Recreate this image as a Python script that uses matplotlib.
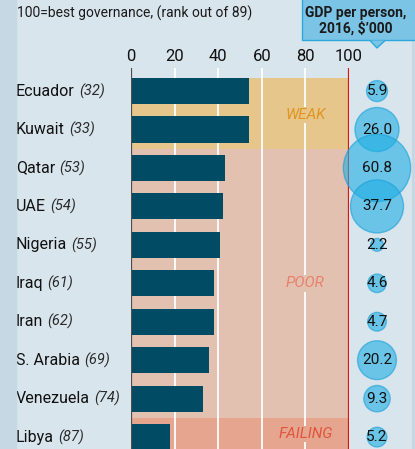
import matplotlib
matplotlib.use('Agg')
import matplotlib.pyplot as plt
from matplotlib.patches import Rectangle, Polygon

plt.rcParams['font.family'] = ['Roboto', 'DejaVu Sans']

# data
countries = ['Ecuador', 'Kuwait', 'Qatar', 'UAE', 'Nigeria', 'Iraq', 'Iran',
             'S. Arabia', 'Venezuela', 'Libya']
ranks = [32, 33, 53, 54, 55, 61, 62, 69, 74, 87]
scores = [54, 54, 43, 42, 41, 38, 38, 36, 33, 18]
gdp = [5.9, 26.0, 60.8, 37.7, 2.2, 4.6, 4.7, 20.2, 9.3, 5.2]
ticks = [0, 20, 40, 60, 80, 100]

# bands: (label, top row, bottom row, fill, text colour, label row)
bands = [
    ('WEAK', -0.34, 1.5, '#e6c68b', '#e0951f', 0.62),
    ('POOR', 1.5, 8.5, '#e3c1b1', '#e8806a', 5),
    ('FAILING', 8.5, 9.5, '#e5a58e', '#e0553b', 8.92),
]

BG = '#d9e5ed'
W, H = 415, 449

fig = plt.figure(figsize=(W / 100, H / 100), dpi=100, facecolor=BG)

# darker strips at the edges
fig.patches.append(Rectangle((0, 0), 16 / W, 1, transform=fig.transFigure,
                             color='#c6d8e3', zorder=0))
fig.patches.append(Rectangle((412 / W, 0), 3 / W, 1, transform=fig.transFigure,
                             color='#c6d8e3', zorder=0))

ylim = (9.31, -0.6)
ax = fig.add_axes([131 / W, 0, 218 / W, (H - 68) / H])
ax.set_facecolor('none')
ax.set_xlim(0, 100)
ax.set_ylim(*ylim)

for name, top, bot, fill, tcol, ty in bands:
    ax.axhspan(top, bot, xmin=0, xmax=1, color=fill, zorder=0, lw=0)
    ax.text(80, ty, name, color=tcol, fontsize=11, style='italic',
            ha='center', va='center', zorder=2,
            bbox=dict(facecolor=fill, edgecolor='none', pad=1))

for t in ticks[1:-1]:
    ax.axvline(t, color='white', lw=1.3, zorder=1)
ax.axvline(0, color='#4d4d4d', lw=1.6, zorder=4)
ax.axvline(100, color='#e3120b', lw=1.6, zorder=4)

ax.barh(range(len(countries)), scores, height=0.68, color='#024b65',
        zorder=3)

ax.xaxis.tick_top()
ax.set_xticks(ticks)
ax.set_xticklabels([str(t) for t in ticks], fontsize=12, color='#111111')
ax.tick_params(axis='x', length=0, pad=3)
ax.set_yticks([])
for s in ax.spines.values():
    s.set_visible(False)

# country names with italic rank
renderer = fig.canvas.get_renderer()
lab_tr = matplotlib.transforms.blended_transform_factory(fig.transFigure,
                                                         ax.transData)
for i, (c, r) in enumerate(zip(countries, ranks)):
    t = ax.text(16 / W, i, c, transform=lab_tr, fontsize=11.5,
                color='#111111', va='center', ha='left')
    bb = t.get_window_extent(renderer)
    ax.text((bb.x1 + 4) / W, i, '(%d)' % r, style='italic', fontsize=10.5,
            color='#2a2a2a', va='center', ha='left', transform=lab_tr)

# GDP bubbles
bx = fig.add_axes([349 / W, 0, 56 / W, (H - 68) / H])
bx.set_xlim(0, 1)
bx.set_ylim(*ylim)
bx.axis('off')
bx.set_facecolor('none')
sizes = [38.7 * g for g in gdp]
bx.scatter([0.5] * len(gdp), range(len(gdp)), s=sizes, color='#1eaee3',
           alpha=0.6, edgecolor='#1a9fd6', lw=1, clip_on=False, zorder=3)
for i, g in enumerate(gdp):
    bx.text(0.5, i, '%.1f' % g, ha='center', va='center', fontsize=11,
            color='#111111', zorder=4)

# header
fig.text(17 / W, 1 - 13 / H, '100=best governance, (rank out of 89)',
         fontsize=10, color='#1a1a1a', va='center', ha='left')

# callout box
fig.patches.append(Rectangle((302 / W, 1 - 40 / H), 120 / W, 42 / H,
                             transform=fig.transFigure, facecolor='#7cc4e6',
                             edgecolor='#2aa8dc', lw=1, zorder=5))
fig.patches.append(Polygon([(370 / W, 1 - 40.5 / H), (377 / W, 1 - 48 / H),
                            (385 / W, 1 - 40.5 / H)], closed=False,
                           transform=fig.transFigure, facecolor='#7cc4e6',
                           edgecolor='#2aa8dc', lw=1, zorder=5))
fig.text(356 / W, 1 - 21 / H, "GDP per person,\n2016, $\u2019000",
         fontsize=10, fontweight='bold', color='#1a1a1a', ha='center',
         va='center', linespacing=1.1, zorder=6)

fig.savefig('out.png', dpi=100, facecolor=BG)
